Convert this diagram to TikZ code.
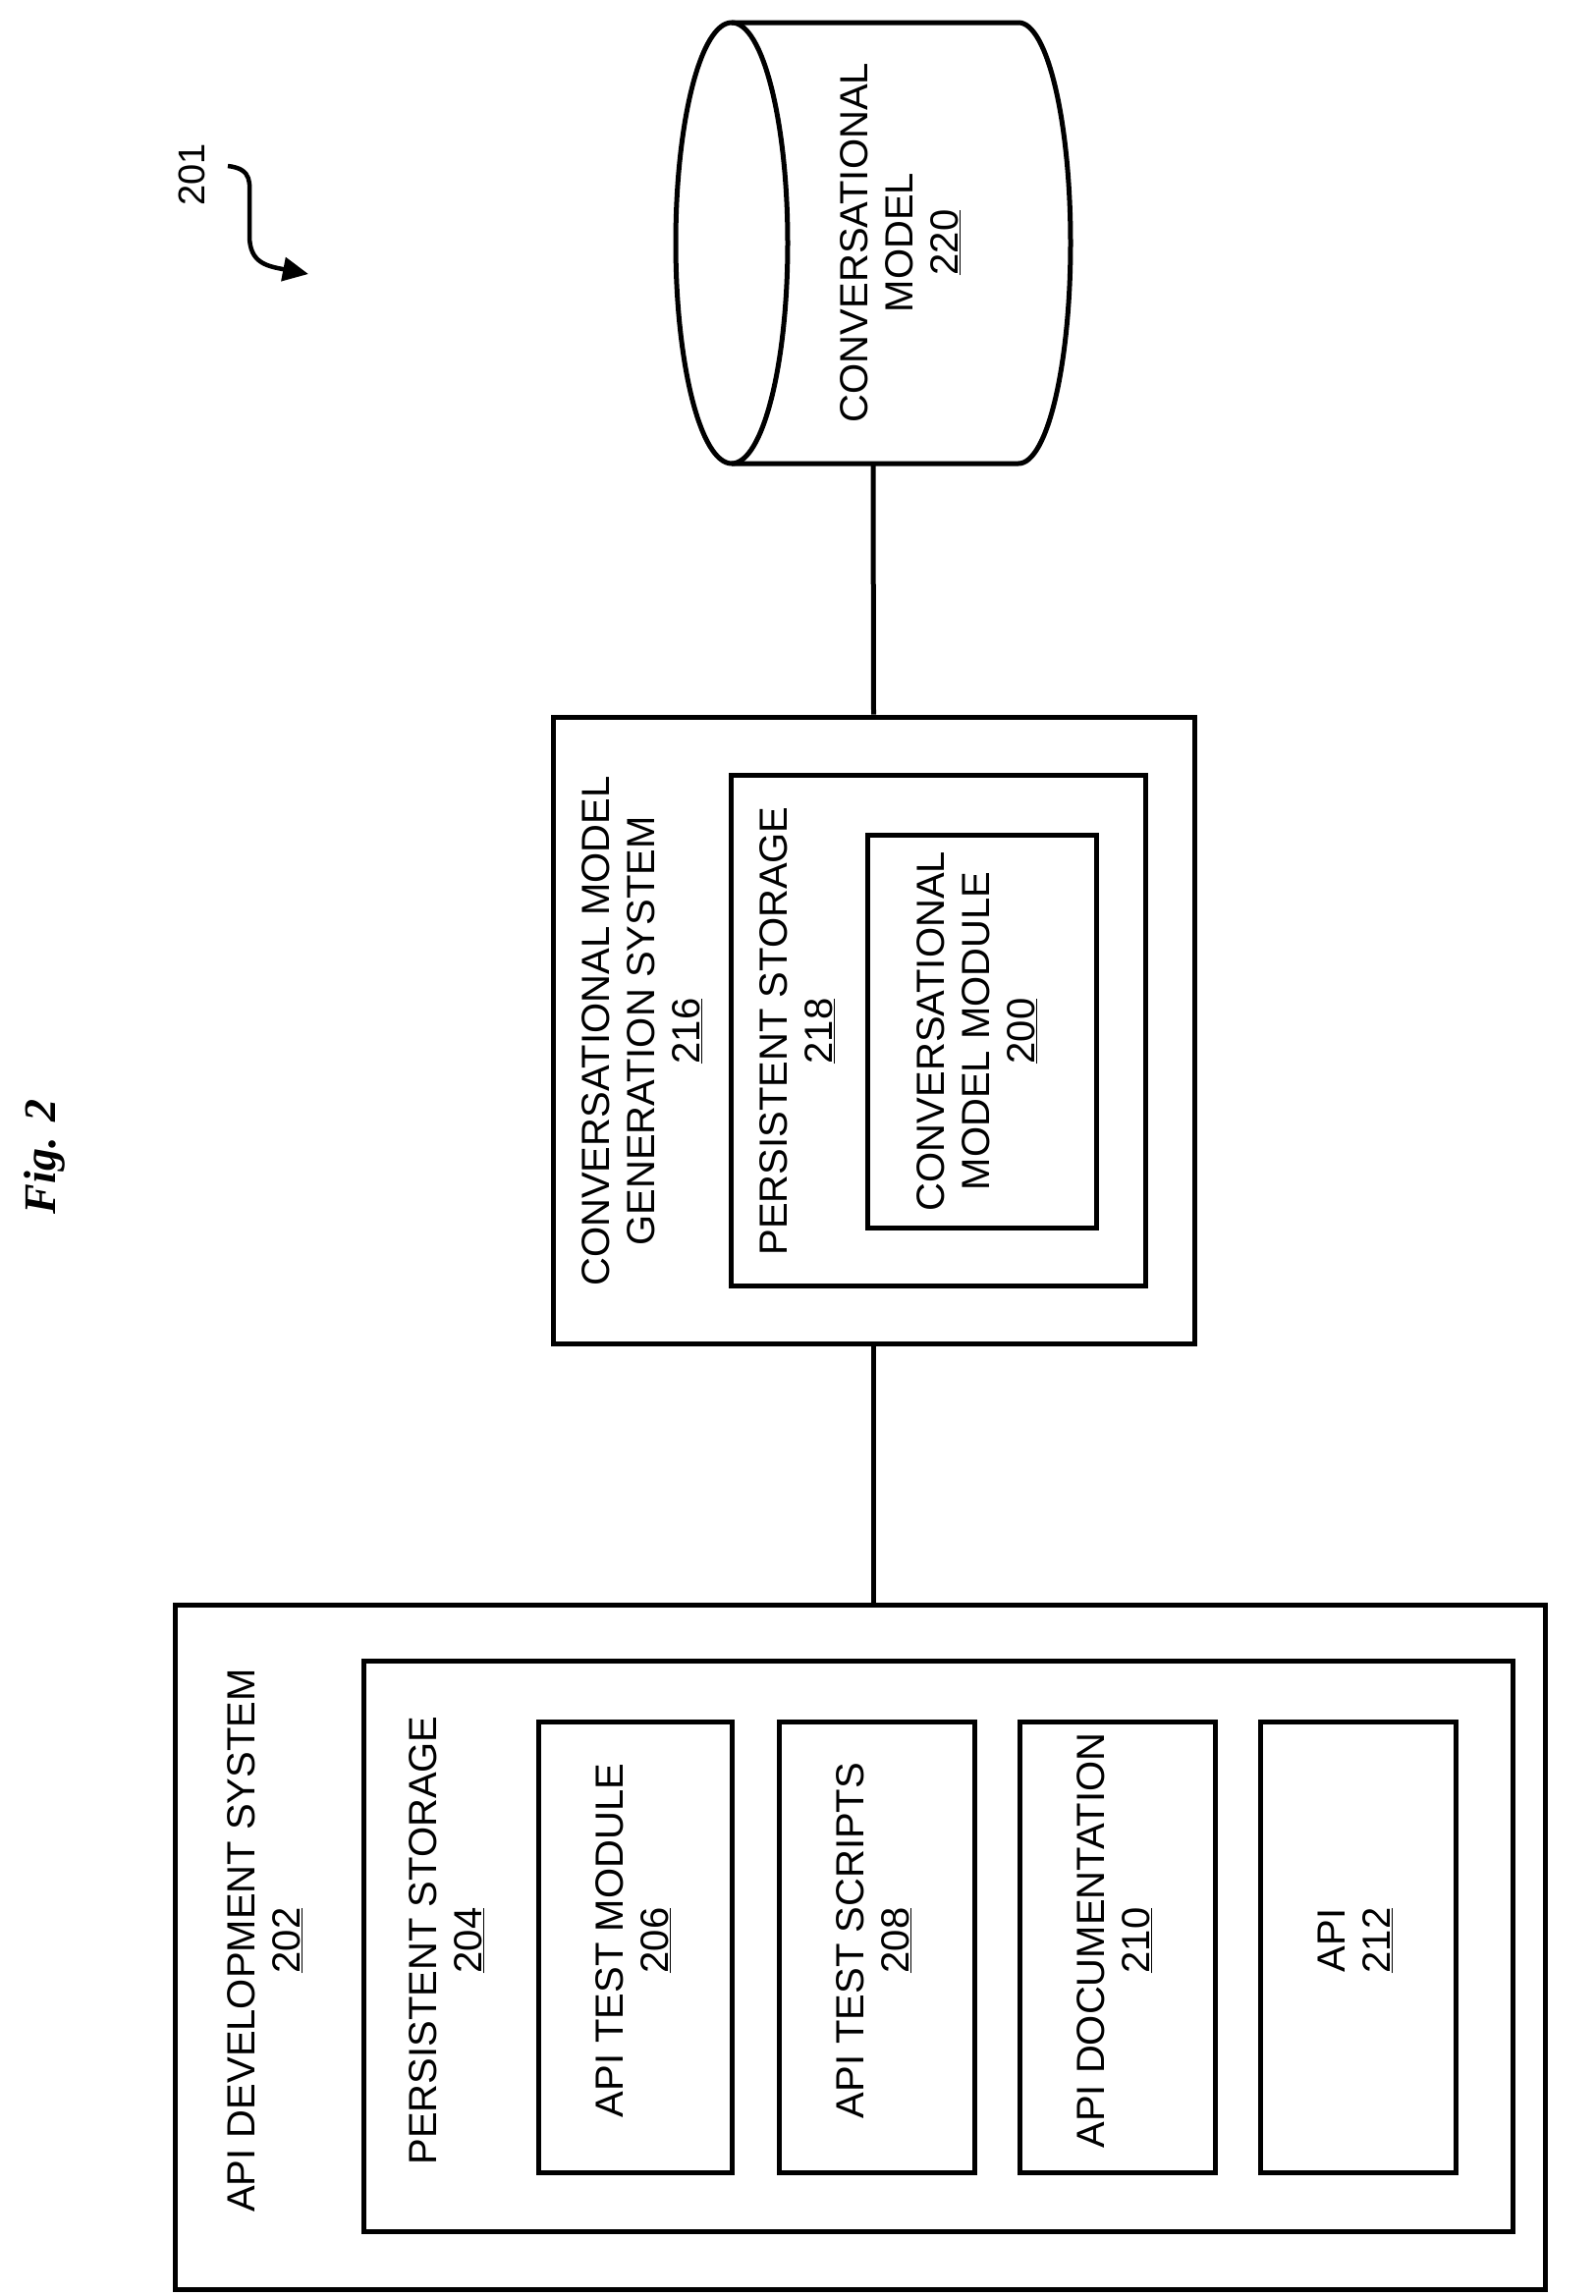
\documentclass[tikz,border=0pt]{standalone}
\usepackage{fontspec}
\setmainfont{Liberation Sans}
\newfontfamily\figfont{Liberation Serif}
\usetikzlibrary{arrows.meta}
\begin{document}
\begin{tikzpicture}[x=1pt,y=1pt,line width=5pt,
  box/.style={draw,rectangle,inner sep=0pt,minimum width=#1},
  lbl/.style={rotate=90,align=center,font=\fontsize{40}{46}\selectfont,inner sep=0pt}]
\useasboundingbox (0,0) rectangle (1625,-2338);
% Fig label
\node[rotate=90,font=\figfont\bfseries\itshape\fontsize{46}{50}\selectfont] (fig) at (45,-1178) {Fig. 2};
% 201
\node[rotate=90,font=\fontsize{38}{44}\selectfont,inner sep=0pt] (n201) at (195,-178) {201};
\coordinate (s201) at (232,-169);
\coordinate (e201) at (314,-279);
\draw[line width=4.5pt,-{Triangle[length=26pt,width=24pt]}] (s201) .. controls (258,-172) and (254,-187) .. (254,-205) -- (254,-240) .. controls (254,-268) and (272,-271) .. (e201);
% cylinder
\draw (745,-247.5) ellipse [x radius=57,y radius=224.5];
\draw (745,-23) -- (1037,-23) arc[start angle=90,end angle=-90,x radius=53,y radius=224.5] -- (745,-472);
\coordinate (cyl) at (889,-472);
\node[lbl] (t220) at (917,-247) {CONVERSATIONAL\\MODEL\\\underline{220}};
% middle system
\node[box=653pt,minimum height=638pt] (b216) at (889.5,-1049) {};
\node[box=422pt,minimum height=520pt] (b218) at (955,-1049) {};
\node[box=233pt,minimum height=400pt] (b200) at (999.5,-1050) {};
\node[lbl] (t216) at (654,-1050) {CONVERSATIONAL MODEL\\GENERATION SYSTEM\\\underline{216}};
\node[lbl] (t218) at (812,-1050) {PERSISTENT STORAGE\\\underline{218}};
\node[lbl] (t200) at (995,-1050) {CONVERSATIONAL\\MODEL MODULE\\\underline{200}};
% API development system
\node[box=1395pt,minimum height=697pt] (b202) at (875.5,-1982.5) {};
\node[box=1170pt,minimum height=581pt] (b204) at (955,-1981.5) {};
\node[box=197pt,minimum height=459pt] (b206) at (646.5,-1982.5) {};
\node[box=199pt,minimum height=459pt] (b208) at (892.5,-1982.5) {};
\node[box=199pt,minimum height=459pt] (b210) at (1137.5,-1982.5) {};
\node[box=199pt,minimum height=459pt] (b212) at (1382.5,-1982.5) {};
\node[lbl] (t202) at (270,-1976) {API DEVELOPMENT SYSTEM\\\underline{202}};
\node[lbl] (t204) at (455,-1976) {PERSISTENT STORAGE\\\underline{204}};
\node[lbl] (t206) at (645,-1976) {API TEST MODULE\\\underline{206}};
\node[lbl] (t208) at (890,-1976) {API TEST SCRIPTS\\\underline{208}};
\node[lbl] (t210) at (1135,-1976) {API DOCUMENTATION\\\underline{210}};
\node[lbl] (t212) at (1380,-1976) {API\\\underline{212}};
% connectors
\draw (cyl) -- (b216.north);
\draw (b216.south) -- (b216.south |- b202.north);
\end{tikzpicture}
\end{document}
